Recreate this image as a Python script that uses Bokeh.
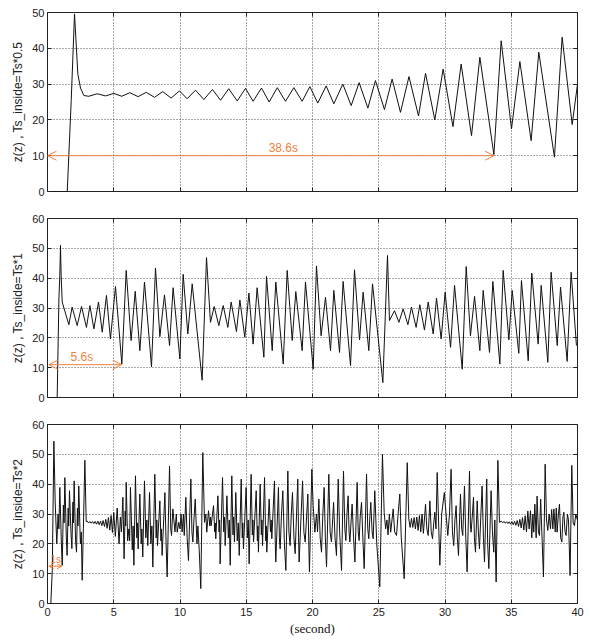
from bokeh.plotting import figure
from bokeh.layouts import column
from bokeh.models import LinearAxis, Arrow, OpenHead, Label, Range1d, FixedTicker
from bokeh.embed import file_html
from bokeh.resources import INLINE

# ---------------- data (time [s], z) ----------------
x_ticks = [0, 5, 10, 15, 20, 25, 30, 35, 40]
y_ticks_top = [0, 10, 20, 30, 40, 50]
y_ticks_other = [0, 10, 20, 30, 40, 50, 60]
y_labels = ["z(z) , Ts_inside=Ts*0.5", "z(z) , Ts_inside=Ts*1", "z(z) , Ts_inside=Ts*2"]
x_label = "(second)"

series_half = [
    (0, 0), (1.49, 0), (1.79, 25.4), (2.04, 49.6), (2.29, 32.8), (2.49, 28.9), (2.75, 26.8),
    (3.12, 26.6), (3.75, 27.3), (4.38, 26.7), (5.0, 27.4), (5.61, 26.6), (6.21, 27.6),
    (6.84, 26.5), (7.45, 27.7), (8.08, 26.3), (8.7, 27.9), (9.33, 26.1), (9.96, 28.1),
    (10.54, 25.9), (11.17, 28.3), (11.8, 25.7), (12.45, 28.5), (13.06, 25.5), (13.68, 28.7),
    (14.32, 25.3), (14.94, 28.8), (15.52, 25.2), (16.15, 28.9), (16.73, 25.0), (17.34, 29.0),
    (17.96, 25.2), (18.59, 29.0), (19.22, 25.2), (19.8, 29.3), (20.4, 24.7), (21.03, 29.5),
    (21.61, 24.5), (22.29, 30.0), (22.92, 24.0), (23.52, 30.4), (24.18, 23.3), (24.75, 31.0),
    (25.43, 22.9), (26.01, 31.4), (26.64, 22.1), (27.28, 32.1), (28.0, 21.1), (28.53, 33.0),
    (29.23, 20.0), (29.86, 34.2), (30.6, 18.1), (31.22, 35.6), (32.0, 15.6), (32.63, 37.5),
    (33.69, 10.3), (34.24, 42.1), (35.02, 17.5), (35.65, 36.3), (36.5, 14.2), (37.08, 38.9),
    (38.26, 9.6), (38.84, 43.1), (39.6, 18.7), (40.0, 30.0),
]

series_one = [
    (0, 0), (0.73, 0), (0.86, 33), (0.93, 41), (0.98, 51), (1.03, 41), (1.11, 32),
    (1.61, 24.4), (1.86, 30.3), (2.24, 24.1), (2.57, 30.5), (2.94, 23.5), (3.20, 30.8),
    (3.50, 23.0), (3.85, 32.0), (4.13, 21.9), (4.45, 34.2), (4.75, 19.6), (5.13, 37.2),
    (5.61, 11.2), (5.94, 42.6), (6.31, 19.1), (6.62, 35.6), (6.97, 15.7), (7.32, 38.7),
    (7.85, 10.3), (8.15, 43.4), (8.48, 20.4), (8.83, 34.4), (9.21, 17.4), (9.48, 36.8),
    (9.99, 12.9), (10.24, 41.3), (10.59, 21.3), (10.92, 38.1), (11.67, 5.8), (12.0, 46.9),
    (12.30, 25.2), (12.58, 30.5), (12.93, 24.1), (13.26, 30.8), (13.61, 23.5), (13.86, 32.0),
    (14.26, 22.1), (14.52, 32.7), (14.89, 20.2), (15.20, 35.0), (15.52, 17.9), (15.82, 36.8),
    (16.33, 13.5), (16.53, 40.6), (16.96, 15.7), (17.23, 38.7), (17.79, 11.2), (18.09, 42.6),
    (18.47, 19.1), (18.74, 35.5), (19.22, 15.7), (19.47, 38.7), (20.05, 9.5), (20.30, 44.1),
    (20.65, 20.7), (20.98, 33.6), (21.36, 15.7), (21.61, 35.9), (22.04, 15.1), (22.31, 38.9),
    (22.87, 10.7), (23.17, 42.8), (23.55, 19.3), (23.82, 35.3), (24.25, 15.7), (24.53, 38.1),
    (25.31, 5.0), (25.66, 47.6), (25.81, 25.8), (26.19, 29.1), (26.52, 25.2), (26.84, 29.7),
    (27.20, 24.4), (27.47, 30.3), (27.82, 23.5), (28.10, 31.1), (28.45, 22.6), (28.73, 32.0),
    (29.11, 21.3), (29.36, 33.3), (29.71, 19.6), (30.01, 35.3), (30.42, 16.8), (30.72, 37.6),
    (31.30, 9.5), (31.60, 43.9), (31.92, 20.7), (32.23, 33.9), (32.63, 15.7), (32.88, 35.9),
    (33.36, 15.1), (33.61, 38.9), (34.14, 11.2), (34.39, 42.6), (34.82, 19.3), (35.07, 35.9),
    (35.57, 14.8), (35.77, 39.2), (36.28, 12.3), (36.55, 41.7), (37.03, 17.9), (37.26, 37.6),
    (37.76, 11.8), (38.01, 42.0), (38.47, 17.4), (38.72, 37.0), (39.22, 12.1), (39.52, 42.0),
    (39.92, 17.4),
]

series_two = [
    (0, 0), (0.25, 0), (0.36, 11), (0.48, 54.4), (0.58, 34), (0.70, 20), (0.80, 30), (0.86, 25),
    (0.93, 38.9), (1.05, 20), (1.11, 12.8), (1.20, 33), (1.25, 27), (1.31, 42.2), (1.42, 22),
    (1.48, 16.1), (1.56, 32), (1.60, 26), (1.66, 37.8), (1.77, 24), (1.84, 18.4), (1.92, 34),
    (1.96, 27), (2.01, 41.1), (2.12, 21), (2.19, 17.2), (2.26, 32), (2.30, 26), (2.36, 39.4),
    (2.48, 20), (2.55, 24), (2.62, 7.8), (2.82, 48), (2.92, 27.5),
    (3.0, 27.6), (3.1, 27.0), (3.2, 27.5), (3.3, 26.9), (3.4, 27.5), (3.5, 26.8), (3.6, 27.5),
    (3.7, 26.6), (3.8, 27.6), (3.9, 26.4), (4.0, 27.6), (4.1, 26.1), (4.2, 27.8), (4.3, 25.8),
    (4.4, 28.2), (4.5, 25.2), (4.6, 28.8), (4.7, 24.6), (4.8, 29.5), (4.9, 23.8),
    (5.0, 30.5), (5.12, 22.5), (5.26, 32), (5.40, 20), (5.50, 29), (5.58, 24), (5.69, 35.6),
    (5.78, 15), (5.86, 31), (5.90, 26), (5.94, 40.6), (6.05, 21), (6.14, 25), (6.20, 21),
    (6.26, 38.9), (6.40, 18), (6.46, 26), (6.52, 12.8), (6.64, 42.8), (6.74, 22), (6.80, 27),
    (6.84, 18.3), (6.97, 36.7), (7.07, 20), (7.12, 25), (7.19, 15.6), (7.32, 41.1), (7.42, 22),
    (7.50, 28), (7.57, 19.4), (7.70, 37.2), (7.80, 20), (7.88, 26), (7.95, 12.2), (8.10, 43.3),
    (8.20, 22), (8.25, 28), (8.30, 19.4), (8.48, 34.4), (8.56, 21), (8.60, 25), (8.65, 16.1),
    (8.86, 37.2), (8.95, 20), (9.03, 8.9), (9.21, 46), (9.30, 25), (9.36, 22.8), (9.46, 31.7),
    (9.62, 24), (9.72, 30), (9.79, 23.9), (9.91, 27.2),
    (10.0, 25), (10.08, 30), (10.16, 24), (10.26, 30), (10.32, 22.8), (10.44, 35.6), (10.54, 22),
    (10.64, 14.4), (10.74, 30), (10.82, 41.7), (10.90, 24), (10.97, 20.6), (11.05, 28),
    (11.15, 35), (11.28, 20), (11.35, 26), (11.45, 18), (11.57, 5), (11.72, 50.6), (11.85, 27.2),
    (11.95, 30), (12.02, 23.9), (12.15, 31.1), (12.25, 26), (12.30, 29), (12.35, 26.1),
    (12.53, 32.8), (12.62, 24), (12.66, 27), (12.70, 21.7), (12.86, 36.1), (12.95, 24),
    (12.99, 28), (13.03, 13.3), (13.21, 42.2), (13.30, 24), (13.36, 29), (13.41, 19.4),
    (13.54, 36.1), (13.65, 22), (13.72, 28), (13.79, 12.8), (13.91, 42.8), (14.00, 23),
    (14.05, 29), (14.11, 20.6), (14.21, 37.2), (14.32, 21), (14.40, 27), (14.47, 16.1),
    (14.62, 41.7), (14.70, 22), (14.74, 27), (14.79, 18.3), (14.99, 38.9), (15.08, 22),
    (15.15, 28), (15.22, 13.3), (15.37, 43.3), (15.46, 23), (15.50, 28), (15.55, 20.6),
    (15.75, 37.8), (15.84, 21), (15.88, 26), (15.92, 17.2), (16.05, 40), (16.14, 23),
    (16.18, 28), (16.23, 19.4), (16.38, 42.2), (16.47, 21), (16.51, 26), (16.55, 17.2),
    (16.73, 35), (16.83, 24), (16.88, 28), (16.93, 21.7), (17.13, 41.1), (17.19, 20),
    (17.23, 13.9), (17.43, 38.9), (17.50, 22), (17.56, 18.3), (17.66, 30), (17.76, 37.8),
    (17.88, 20), (17.99, 11.1), (18.14, 44.4), (18.22, 24), (18.31, 19.4), (18.40, 30),
    (18.49, 37.2), (18.60, 22), (18.69, 16.7), (18.89, 41.7), (18.95, 22), (18.99, 13.9),
    (19.25, 41.1), (19.35, 24), (19.45, 20.6), (19.65, 36.7), (19.72, 20), (19.77, 10.6),
    (19.95, 45), (20.05, 32.8), (20.18, 23.9), (20.30, 30), (20.38, 24), (20.48, 35),
    (20.58, 22), (20.68, 17.2), (20.78, 30), (20.88, 38.9), (20.97, 22), (21.06, 12.2),
    (21.23, 43.3), (21.33, 24), (21.43, 20.6), (21.52, 28), (21.59, 33.9), (21.70, 22),
    (21.81, 16.1), (21.94, 41.7), (22.05, 24), (22.19, 11.1), (22.34, 44.4), (22.44, 25),
    (22.52, 21.1), (22.60, 30), (22.69, 36.1), (22.76, 24), (22.82, 20.6), (22.99, 33.3),
    (23.10, 22), (23.20, 13.9), (23.37, 40.6), (23.45, 24), (23.52, 21.1), (23.60, 29),
    (23.70, 33.9), (23.80, 22), (23.90, 11.7), (24.08, 43.3), (24.17, 25), (24.25, 21.7),
    (24.33, 29), (24.40, 33.9), (24.50, 24), (24.58, 21.7), (24.70, 37.8), (24.85, 20),
    (25.08, 5.6), (25.28, 50),
    (25.41, 30.5), (25.52, 25), (25.62, 28), (25.70, 23), (25.80, 30), (25.90, 23.9),
    (26.00, 28), (26.09, 31.7), (26.20, 24), (26.34, 22.8), (26.46, 30), (26.59, 36.7),
    (26.70, 22), (26.92, 8.3), (27.15, 47.2), (27.27, 28.3), (27.37, 25.5), (27.47, 28.5),
    (27.57, 25.5), (27.67, 28.8), (27.77, 25), (27.87, 29), (27.97, 24.5), (28.07, 29.5),
    (28.17, 24), (28.27, 30), (28.37, 23.5), (28.53, 33.3), (28.63, 25), (28.73, 22.8),
    (28.86, 34.4), (28.96, 24), (29.06, 21.7), (29.15, 27), (29.23, 30.6), (29.32, 25),
    (29.41, 43.9), (29.61, 12.8), (29.75, 30), (29.95, 37.2),
    (30.21, 22.8), (30.34, 30), (30.46, 45), (30.56, 24), (30.66, 19.4), (30.75, 28),
    (30.84, 32.8), (30.93, 22), (31.02, 16.1), (31.10, 28), (31.17, 36.7), (31.26, 25),
    (31.34, 22.8), (31.47, 39.4), (31.57, 22), (31.67, 10.6), (31.85, 44.4), (31.92, 26),
    (31.97, 23.9), (32.07, 30), (32.15, 35.6), (32.22, 22), (32.30, 17.2), (32.43, 34.4),
    (32.52, 24), (32.60, 18.3), (32.80, 39.4), (32.90, 22), (32.98, 13.9), (33.15, 41.7),
    (33.22, 20), (33.31, 11.7), (33.48, 37.8), (33.58, 24), (33.68, 17.2), (33.76, 28),
    (33.86, 7.2), (33.99, 48), (34.11, 27.2),
    (34.25, 27.6), (34.35, 27.0), (34.45, 27.5), (34.55, 26.9), (34.65, 27.4), (34.75, 26.8),
    (34.85, 27.4), (34.95, 26.6), (35.05, 27.4), (35.15, 26.4), (35.25, 27.5), (35.35, 26.2),
    (35.45, 27.8), (35.55, 25.8), (35.65, 28.2), (35.75, 25.3), (35.85, 28.8), (35.95, 24.6),
    (36.05, 29.4), (36.15, 24), (36.25, 31), (36.35, 25), (36.45, 31.1), (36.55, 22),
    (36.63, 30), (36.70, 23.9), (36.78, 33.3), (36.88, 22), (36.95, 36), (37.05, 24),
    (37.13, 22.8), (37.22, 35), (37.43, 8.9), (37.56, 46.7), (37.66, 28), (37.76, 24.5),
    (37.86, 30), (37.96, 25), (38.05, 31.5), (38.14, 25), (38.22, 31.7), (38.32, 24),
    (38.40, 32), (38.46, 23.9), (38.56, 30), (38.64, 33.3), (38.73, 22), (38.82, 20.6),
    (38.90, 29), (38.97, 30.6), (39.06, 24), (39.14, 22.8), (39.24, 30), (39.32, 28),
    (39.44, 9.4), (39.57, 46.3), (39.67, 27), (39.77, 26.1), (39.87, 30), (39.97, 28.3),
    (40.0, 28),
]

# delay-measurement arrows: start time, end time, level, label
arrow_start = [0.0, 0.1, 0.1]
arrow_end = [33.7, 5.6, 1.1]
arrow_level = [10.0, 11.0, 12.5]
arrow_text = ["38.6s", "5.6s", "1s"]

# ---------------- plotting ----------------
ORANGE = "#EE8240"
LINE = "#111111"
FONT = "Liberation Sans"


def hide_labels(ax):
    ax.major_label_text_color = None
    ax.major_label_text_font_size = "1px"
    ax.major_label_standoff = 0


def make_panel(series, ymax, yticks, ylabel, idx, top_border, last):
    bottom = 36 if last else 23
    p = figure(frame_width=530, frame_height=179,
               x_range=Range1d(0, 40), y_range=Range1d(0, ymax),
               output_backend="svg", toolbar_location=None,
               min_border_left=47, min_border_right=9, min_border_top=top_border,
               min_border_bottom=bottom,
               background_fill_color="white", border_fill_color="white")
    p.outline_line_color = "#222222"
    p.outline_line_width = 1

    for ax in (p.xaxis[0], p.yaxis[0]):
        ax.axis_line_color = None
        ax.major_tick_in = 4
        ax.major_tick_out = 0
        ax.major_tick_line_color = "#222222"
        ax.minor_tick_line_color = None
        ax.major_label_text_font = FONT
        ax.major_label_text_font_size = "11px"
        ax.major_label_text_color = "#222222"
        ax.major_label_standoff = 3

    p.xaxis.ticker = FixedTicker(ticks=x_ticks)
    p.yaxis.ticker = FixedTicker(ticks=yticks)
    p.yaxis.axis_label = ylabel
    p.yaxis.axis_label_text_font = FONT
    p.yaxis.axis_label_text_font_size = "12px"
    p.yaxis.axis_label_text_font_style = "normal"
    p.yaxis.axis_label_text_color = "#222222"
    p.yaxis.axis_label_standoff = 4

    if last:
        p.xaxis.axis_label = x_label
        p.xaxis.axis_label_text_font = "Liberation Serif"
        p.xaxis.axis_label_text_font_size = "13px"
        p.xaxis.axis_label_text_font_style = "normal"
        p.xaxis.axis_label_text_color = "#111111"
        p.xaxis.axis_label_standoff = 2
        p.xaxis.major_label_standoff = 4
    else:
        hide_labels(p.xaxis[0])

    # ticks on top and right (box style)
    top = LinearAxis(ticker=FixedTicker(ticks=x_ticks), axis_line_color=None,
                     major_tick_in=4, major_tick_out=0, minor_tick_line_color=None,
                     major_tick_line_color="#222222")
    right = LinearAxis(ticker=FixedTicker(ticks=yticks), axis_line_color=None,
                       major_tick_in=4, major_tick_out=0, minor_tick_line_color=None,
                       major_tick_line_color="#222222")
    hide_labels(top)
    hide_labels(right)
    p.add_layout(top, "above")
    p.add_layout(right, "right")

    p.xgrid.ticker = FixedTicker(ticks=x_ticks)
    p.ygrid.ticker = FixedTicker(ticks=yticks)
    for g in (p.xgrid[0], p.ygrid[0]):
        g.grid_line_color = "#333333"
        g.grid_line_dash = "1 2"
        g.grid_line_alpha = 0.85

    t = [s[0] for s in series]
    z = [s[1] for s in series]
    p.line(t, z, line_color=LINE, line_width=1)

    head = [9, 9, 5][idx]
    p.add_layout(Arrow(start=OpenHead(size=head, line_color=ORANGE, line_width=1),
                       end=OpenHead(size=head, line_color=ORANGE, line_width=1),
                       x_start=arrow_start[idx], y_start=arrow_level[idx],
                       x_end=arrow_end[idx], y_end=arrow_level[idx],
                       line_color=ORANGE, line_width=1))
    text_pos = [17.8, 2.6, 0.62]
    size = ["12px", "12px", "10px"]
    p.add_layout(Label(x=text_pos[idx], y=arrow_level[idx], text=arrow_text[idx],
                       text_align="center", text_baseline="bottom", y_offset=1,
                       text_font=FONT, text_font_size=size[idx], text_color=ORANGE))
    return p


p1 = make_panel(series_half, 50, y_ticks_top, y_labels[0], 0, 12, False)
p2 = make_panel(series_one, 60, y_ticks_other, y_labels[1], 1, 4, False)
p3 = make_panel(series_two, 60, y_ticks_other, y_labels[2], 2, 4, True)

layout = column(p1, p2, p3, spacing=0)
open("out.html", "w").write(file_html(layout, INLINE))
